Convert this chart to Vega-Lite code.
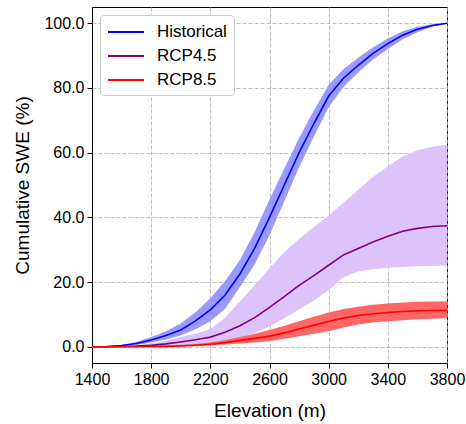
{
  "$schema": "https://vega.github.io/schema/vega-lite/v6.json",
  "autosize": "none",
  "padding": {"left": 92, "top": 7, "right": 19, "bottom": 61},
  "width": 355,
  "height": 356,
  "config": {
    "font": "Liberation Sans",
    "view": {"stroke": "black", "strokeWidth": 1},
    "axis": {
      "labelFont": "Liberation Sans",
      "titleFont": "Liberation Sans",
      "labelFontSize": 16,
      "titleFontSize": 19,
      "titleFontWeight": "normal",
      "labelColor": "black",
      "titleColor": "black",
      "domainColor": "black",
      "tickColor": "black",
      "tickSize": 5,
      "labelPadding": 3,
      "gridColor": "#b0b0b0",
      "gridDash": [4, 2],
      "gridWidth": 0.8,
      "gridOpacity": 1
    },
    "legend": {
      "labelFont": "Liberation Sans",
      "labelFontSize": 17,
      "labelColor": "black"
    }
  },
  "data": {
    "values": [
      {"elev": 1400, "series": "Historical", "lo": 0, "mid": 0, "hi": 0},
      {"elev": 1500, "series": "Historical", "lo": 0.05, "mid": 0.1, "hi": 0.2},
      {"elev": 1600, "series": "Historical", "lo": 0.2, "mid": 0.4, "hi": 0.6},
      {"elev": 1700, "series": "Historical", "lo": 0.6, "mid": 1.0, "hi": 1.5},
      {"elev": 1800, "series": "Historical", "lo": 1.3, "mid": 2.1, "hi": 3.0},
      {"elev": 1900, "series": "Historical", "lo": 2.3, "mid": 3.5, "hi": 4.8},
      {"elev": 2000, "series": "Historical", "lo": 3.5, "mid": 5.2, "hi": 7.2},
      {"elev": 2100, "series": "Historical", "lo": 5.4, "mid": 8.0, "hi": 10.7},
      {"elev": 2200, "series": "Historical", "lo": 7.9, "mid": 11.4, "hi": 15.0},
      {"elev": 2300, "series": "Historical", "lo": 11.8, "mid": 16.0, "hi": 20.3},
      {"elev": 2400, "series": "Historical", "lo": 18.5, "mid": 22.5, "hi": 26.8},
      {"elev": 2500, "series": "Historical", "lo": 25.5, "mid": 30.5, "hi": 35.5},
      {"elev": 2600, "series": "Historical", "lo": 34.5, "mid": 40, "hi": 45.5},
      {"elev": 2700, "series": "Historical", "lo": 45, "mid": 50, "hi": 55},
      {"elev": 2800, "series": "Historical", "lo": 55.5, "mid": 60, "hi": 64.5},
      {"elev": 2900, "series": "Historical", "lo": 65, "mid": 69, "hi": 73},
      {"elev": 3000, "series": "Historical", "lo": 74, "mid": 77.5, "hi": 81},
      {"elev": 3100, "series": "Historical", "lo": 80.3, "mid": 83, "hi": 85.8},
      {"elev": 3200, "series": "Historical", "lo": 84.8, "mid": 87, "hi": 89.3},
      {"elev": 3300, "series": "Historical", "lo": 88.8, "mid": 90.7, "hi": 92.6},
      {"elev": 3400, "series": "Historical", "lo": 92, "mid": 93.7, "hi": 95.3},
      {"elev": 3500, "series": "Historical", "lo": 95, "mid": 96.3, "hi": 97.5},
      {"elev": 3600, "series": "Historical", "lo": 97.2, "mid": 98.1, "hi": 98.9},
      {"elev": 3700, "series": "Historical", "lo": 98.9, "mid": 99.3, "hi": 99.7},
      {"elev": 3800, "series": "Historical", "lo": 99.8, "mid": 100, "hi": 100},

      {"elev": 1400, "series": "RCP4.5", "lo": 0, "mid": 0, "hi": 0},
      {"elev": 1500, "series": "RCP4.5", "lo": 0, "mid": 0.02, "hi": 0.05},
      {"elev": 1600, "series": "RCP4.5", "lo": 0.02, "mid": 0.08, "hi": 0.2},
      {"elev": 1700, "series": "RCP4.5", "lo": 0.06, "mid": 0.2, "hi": 0.5},
      {"elev": 1800, "series": "RCP4.5", "lo": 0.12, "mid": 0.45, "hi": 1.0},
      {"elev": 1900, "series": "RCP4.5", "lo": 0.25, "mid": 0.9, "hi": 1.9},
      {"elev": 2000, "series": "RCP4.5", "lo": 0.45, "mid": 1.5, "hi": 3.0},
      {"elev": 2100, "series": "RCP4.5", "lo": 0.75, "mid": 2.2, "hi": 4.0},
      {"elev": 2200, "series": "RCP4.5", "lo": 1.1, "mid": 3.0, "hi": 5.5},
      {"elev": 2300, "series": "RCP4.5", "lo": 1.8, "mid": 4.5, "hi": 9.0},
      {"elev": 2400, "series": "RCP4.5", "lo": 2.8, "mid": 6.5, "hi": 14.0},
      {"elev": 2500, "series": "RCP4.5", "lo": 4.3, "mid": 9.0, "hi": 19.0},
      {"elev": 2600, "series": "RCP4.5", "lo": 6.3, "mid": 12.2, "hi": 24.3},
      {"elev": 2700, "series": "RCP4.5", "lo": 8.8, "mid": 15.5, "hi": 29.3},
      {"elev": 2800, "series": "RCP4.5", "lo": 11.5, "mid": 19, "hi": 33.3},
      {"elev": 2900, "series": "RCP4.5", "lo": 14.3, "mid": 22, "hi": 37},
      {"elev": 3000, "series": "RCP4.5", "lo": 17.5, "mid": 25.2, "hi": 40.5},
      {"elev": 3100, "series": "RCP4.5", "lo": 21.5, "mid": 28.4, "hi": 44.5},
      {"elev": 3200, "series": "RCP4.5", "lo": 23.3, "mid": 30.4, "hi": 48.5},
      {"elev": 3300, "series": "RCP4.5", "lo": 24.0, "mid": 32.4, "hi": 52.5},
      {"elev": 3400, "series": "RCP4.5", "lo": 24.4, "mid": 34.2, "hi": 55.8},
      {"elev": 3500, "series": "RCP4.5", "lo": 24.7, "mid": 35.7, "hi": 58.8},
      {"elev": 3600, "series": "RCP4.5", "lo": 24.9, "mid": 36.6, "hi": 60.7},
      {"elev": 3700, "series": "RCP4.5", "lo": 25.0, "mid": 37.2, "hi": 61.8},
      {"elev": 3800, "series": "RCP4.5", "lo": 25.1, "mid": 37.4, "hi": 62.5},

      {"elev": 1400, "series": "RCP8.5", "lo": 0, "mid": 0, "hi": 0},
      {"elev": 1600, "series": "RCP8.5", "lo": 0, "mid": 0.01, "hi": 0.03},
      {"elev": 1800, "series": "RCP8.5", "lo": 0.02, "mid": 0.08, "hi": 0.15},
      {"elev": 1900, "series": "RCP8.5", "lo": 0.05, "mid": 0.15, "hi": 0.3},
      {"elev": 2000, "series": "RCP8.5", "lo": 0.1, "mid": 0.3, "hi": 0.55},
      {"elev": 2100, "series": "RCP8.5", "lo": 0.25, "mid": 0.5, "hi": 0.9},
      {"elev": 2200, "series": "RCP8.5", "lo": 0.4, "mid": 0.8, "hi": 1.4},
      {"elev": 2300, "series": "RCP8.5", "lo": 0.7, "mid": 1.3, "hi": 2.1},
      {"elev": 2400, "series": "RCP8.5", "lo": 1.0, "mid": 2.0, "hi": 3.0},
      {"elev": 2500, "series": "RCP8.5", "lo": 1.3, "mid": 2.6, "hi": 4.0},
      {"elev": 2600, "series": "RCP8.5", "lo": 1.7, "mid": 3.3, "hi": 5.2},
      {"elev": 2700, "series": "RCP8.5", "lo": 2.5, "mid": 4.3, "hi": 6.5},
      {"elev": 2800, "series": "RCP8.5", "lo": 3.3, "mid": 5.5, "hi": 7.9},
      {"elev": 2900, "series": "RCP8.5", "lo": 4.0, "mid": 6.7, "hi": 9.3},
      {"elev": 3000, "series": "RCP8.5", "lo": 4.8, "mid": 7.8, "hi": 10.6},
      {"elev": 3100, "series": "RCP8.5", "lo": 6.0, "mid": 8.9, "hi": 11.7},
      {"elev": 3200, "series": "RCP8.5", "lo": 6.9, "mid": 9.7, "hi": 12.4},
      {"elev": 3300, "series": "RCP8.5", "lo": 7.5, "mid": 10.2, "hi": 13.0},
      {"elev": 3400, "series": "RCP8.5", "lo": 7.9, "mid": 10.6, "hi": 13.4},
      {"elev": 3500, "series": "RCP8.5", "lo": 8.2, "mid": 10.9, "hi": 13.7},
      {"elev": 3600, "series": "RCP8.5", "lo": 8.5, "mid": 11.1, "hi": 13.9},
      {"elev": 3700, "series": "RCP8.5", "lo": 8.7, "mid": 11.2, "hi": 14.0},
      {"elev": 3800, "series": "RCP8.5", "lo": 8.8, "mid": 11.3, "hi": 14.1}
    ]
  },
  "encoding": {
    "x": {
      "field": "elev", "type": "quantitative",
      "scale": {"domain": [1400, 3800], "nice": false, "zero": false},
      "axis": {"title": "Elevation (m)", "values": [1400, 1800, 2200, 2600, 3000, 3400, 3800], "format": "d", "titlePadding": 14, "labelFlush": false}
    }
  },
  "layer": [
    {
      "mark": {"type": "area", "opacity": 1},
      "encoding": {
        "y": {
          "field": "lo", "type": "quantitative",
          "scale": {"domain": [-5, 105], "nice": false, "zero": false},
          "axis": {"title": "Cumulative SWE (%)", "values": [0, 20, 40, 60, 80, 100], "format": ".1f", "titlePadding": 11}
        },
        "y2": {"field": "hi"},
        "fill": {
          "field": "series", "type": "nominal",
          "scale": {"domain": ["Historical", "RCP4.5", "RCP8.5"], "range": ["#9999ff", "#dcc4fa", "#ff6666"]},
          "legend": null
        }
      }
    },
    {
      "mark": {"type": "line", "strokeWidth": 1.6},
      "encoding": {
        "y": {"field": "mid", "type": "quantitative"},
        "stroke": {
          "field": "series", "type": "nominal",
          "scale": {"domain": ["Historical", "RCP4.5", "RCP8.5"], "range": ["#0000ff", "#800080", "#ff0000"]},
          "legend": {
            "title": null,
            "orient": "top-left",
            "offset": 8,
            "padding": 7,
            "strokeColor": "#cccccc",
            "fillColor": "white",
            "cornerRadius": 4,
            "symbolType": "M-1,0H3",
            "symbolSize": 324,
            "symbolStrokeWidth": 2,
            "symbolFillColor": "transparent",
            "labelOffset": 30,
            "rowPadding": 6
          }
        }
      }
    }
  ],
  "resolve": {"scale": {"fill": "independent", "stroke": "independent"}}
}
